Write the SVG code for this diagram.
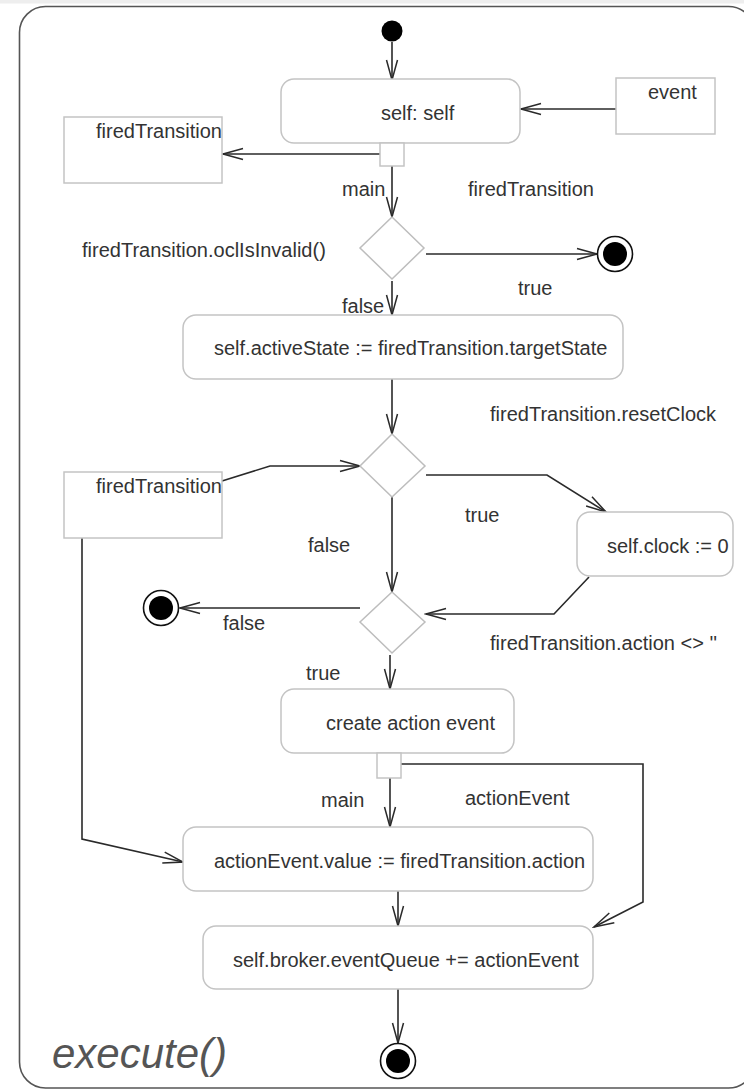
<svg xmlns="http://www.w3.org/2000/svg" width="744" height="1091" viewBox="0 0 744 1091">
<style>
.t{font-family:"Liberation Sans",Arial,sans-serif;font-size:20px;fill:#333}
.box{fill:#fff;stroke:#c4c4c4;stroke-width:1.5}
.dia{fill:#fff;stroke:#bdbdbd;stroke-width:1.5}
.c{fill:none;stroke:#2a2a2a;stroke-width:1.6}
.fin{fill:#fff;stroke:#111;stroke-width:1.6}
</style>
<defs>
<marker id="arr" viewBox="-22 -7 24 14" markerWidth="24" markerHeight="14" refX="0" refY="0" orient="auto" markerUnits="userSpaceOnUse">
<path d="M-20,-5.5 L0,0 L-20,5.5" fill="none" stroke="#2a2a2a" stroke-width="1.5"/>
</marker>
</defs>
<rect x="0" y="0" width="744" height="1091" fill="#fff"/>
<rect x="0" y="0" width="744" height="3.5" fill="#eeeeee"/>
<rect id="frame" x="19.5" y="6.5" width="735" height="1081.5" rx="26" ry="26" fill="#fff" stroke="#555" stroke-width="1.6"/>
<text class="t" x="52" y="1068" style="font-size:42px;font-style:italic;fill:#555">execute()</text>

<g id="connectors">
<line class="c" x1="392" y1="42" x2="392" y2="80" marker-end="url(#arr)"/>
<line class="c" x1="616" y1="109" x2="521" y2="109" marker-end="url(#arr)"/>
<line class="c" x1="380" y1="154" x2="223" y2="154" marker-end="url(#arr)"/>
<line class="c" x1="392" y1="166" x2="392" y2="217" marker-end="url(#arr)"/>
<line class="c" x1="426" y1="254" x2="597" y2="254" marker-end="url(#arr)"/>
<line class="c" x1="392" y1="281" x2="392" y2="315" marker-end="url(#arr)"/>
<line class="c" x1="392" y1="379" x2="392" y2="434" marker-end="url(#arr)"/>
<polyline class="c" points="222,481 270,466 360,466" marker-end="url(#arr)"/>
<polyline class="c" points="426,475 547,475 606,512" marker-end="url(#arr)"/>
<line class="c" x1="392" y1="497" x2="392" y2="592" marker-end="url(#arr)"/>
<polyline class="c" points="589,577 554,614 426,614" marker-end="url(#arr)"/>
<line class="c" x1="360" y1="608" x2="180" y2="608" marker-end="url(#arr)"/>
<line class="c" x1="390" y1="655" x2="390" y2="689" marker-end="url(#arr)"/>
<polyline class="c" points="401,764 643,764 643,902 594,927" marker-end="url(#arr)"/>
<line class="c" x1="390" y1="778" x2="390" y2="827" marker-end="url(#arr)"/>
<polyline class="c" points="82,538 82,839 183,862" marker-end="url(#arr)"/>
<line class="c" x1="398" y1="891" x2="398" y2="926" marker-end="url(#arr)"/>
<line class="c" x1="398" y1="989" x2="398" y2="1043" marker-end="url(#arr)"/>
<text class="t" x="342" y="196">main</text>
<text class="t" x="468" y="196">firedTransition</text>
<text class="t" x="82" y="257">firedTransition.oclIsInvalid()</text>
<text class="t" x="518" y="295">true</text>
<text class="t" x="342" y="313">false</text>
<text class="t" x="490" y="421">firedTransition.resetClock</text>
<text class="t" x="465" y="522">true</text>
<text class="t" x="308" y="552">false</text>
<text class="t" x="223" y="630">false</text>
<text class="t" x="490" y="650">firedTransition.action &lt;&gt; ''</text>
<text class="t" x="306" y="680">true</text>
<text class="t" x="321" y="807">main</text>
<text class="t" x="465" y="805">actionEvent</text>
</g>

<g id="start"><circle cx="392" cy="31" r="10.5" fill="#000"/></g>

<g id="selfNode">
<rect class="box" x="281" y="79" width="239" height="64" rx="13"/>
<text class="t" x="381" y="120">self: self</text>
</g>
<g id="pin1"><rect class="box" x="380" y="143" width="24" height="23"/></g>

<g id="eventObj">
<rect class="box" x="616" y="78" width="99" height="56"/>
<text class="t" x="648" y="99">event</text>
</g>

<g id="firedTransition1">
<rect class="box" x="64" y="117" width="158" height="66"/>
<text class="t" x="96" y="138">firedTransition</text>
</g>

<g id="decision1"><polygon class="dia" points="392,217 424,248 392,279 360,248"/></g>

<g id="final1">
<circle class="fin" cx="615" cy="254" r="17.5"/>
<circle cx="615" cy="254" r="12" fill="#000"/>
</g>

<g id="activeState">
<rect class="box" x="183" y="315" width="440" height="64" rx="13"/>
<text class="t" x="214" y="355">self.activeState := firedTransition.targetState</text>
</g>

<g id="decision2"><polygon class="dia" points="392,434 425,466 392,497 360,466"/></g>

<g id="firedTransition2">
<rect class="box" x="64" y="472" width="158" height="66"/>
<text class="t" x="96" y="493">firedTransition</text>
</g>

<g id="clockNode">
<rect class="box" x="577" y="512" width="156" height="64" rx="13"/>
<text class="t" x="607" y="553">self.clock := 0</text>
</g>

<g id="decision3"><polygon class="dia" points="392,592 425,622 392,653 360,622"/></g>

<g id="final2">
<circle class="fin" cx="161" cy="608" r="17.5"/>
<circle cx="161" cy="608" r="12" fill="#000"/>
</g>

<g id="createEvent">
<rect class="box" x="281" y="689" width="233" height="64" rx="13"/>
<text class="t" x="326" y="730">create action event</text>
</g>
<g id="pin2"><rect class="box" x="377" y="753" width="24" height="25"/></g>

<g id="assignValue">
<rect class="box" x="183" y="827" width="410" height="64" rx="13"/>
<text class="t" x="214" y="868">actionEvent.value := firedTransition.action</text>
</g>

<g id="enqueue">
<rect class="box" x="203" y="926" width="390" height="63" rx="13"/>
<text class="t" x="233" y="967">self.broker.eventQueue += actionEvent</text>
</g>

<g id="final3">
<circle class="fin" cx="398" cy="1061" r="17.5"/>
<circle cx="398" cy="1061" r="12" fill="#000"/>
</g>
</svg>
